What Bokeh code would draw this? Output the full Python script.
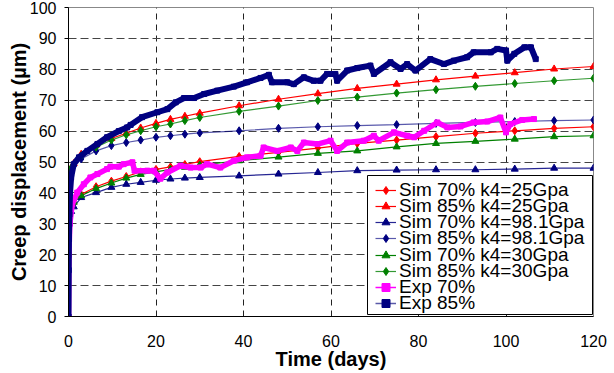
from bokeh.plotting import figure
from bokeh.models import Legend, LegendItem, FixedTicker, BoxAnnotation
from bokeh.embed import file_html
from bokeh.resources import INLINE

# ---------------- data ----------------
sim_t = [0, 0.05, 0.6, 1.2, 2.9, 6.3, 9.8, 13.2, 16.5, 20, 23.3, 26.6, 30,
         39, 48, 57, 66, 75, 84, 93, 102, 111, 120]

sim70_k25 = [0, 34.5, 36.5, 37.5, 39.5, 42.0, 43.8, 45.3, 46.8, 47.6, 48.4, 49.2, 50.1,
             51.8, 53.1, 54.5, 56.0, 57.1, 58.2, 59.3, 60.1, 60.9, 61.4]
sim85_k25 = [0, 46.0, 48.0, 49.5, 52.5, 55.5, 57.6, 59.3, 61.0, 62.5, 63.8, 64.8, 65.8,
             68.2, 70.3, 72.1, 73.8, 75.2, 76.6, 77.8, 78.9, 80.1, 80.9]
sim70_k98 = [0, 30.0, 34.0, 35.5, 38.5, 40.1, 41.8, 42.8, 43.4, 44.1, 44.5, 44.8, 45.0,
             45.5, 46.1, 46.6, 47.2, 47.4, 47.5, 47.5, 47.7, 48.0, 48.0]
sim85_k98 = [0, 45.5, 47.5, 48.8, 51.0, 53.6, 55.3, 56.3, 57.1, 58.0, 58.5, 59.0, 59.4,
             60.1, 60.9, 61.4, 61.8, 62.1, 62.5, 62.8, 63.1, 63.4, 63.6]
sim70_k30 = [0, 34.0, 36.0, 37.0, 39.1, 41.4, 43.2, 44.8, 46.0, 46.8, 47.6, 48.3, 49.0,
             50.4, 51.6, 52.8, 53.6, 54.9, 56.0, 56.7, 57.4, 58.2, 58.5]
sim85_k30 = [0, 45.5, 48.0, 49.3, 52.0, 54.8, 57.1, 58.8, 60.1, 61.4, 62.3, 63.4, 64.4,
             66.4, 68.1, 69.9, 71.0, 72.3, 73.4, 74.5, 75.4, 76.3, 77.1]

exp70_t = [0, 0.1, 0.3, 0.85, 2, 3.5, 5, 6.6, 8.8, 9.6, 11.5, 12.6, 14.6, 15.1, 18, 19.5,
           21, 22.6, 25.6, 27.9, 30.2, 31.7, 34.7, 37.8, 40.8, 43.9, 44.6, 47.7, 50.8,
           52.3, 53.8, 56.9, 59.9, 61.4, 63.7, 67.5, 69.8, 70.9, 74.4, 77.4, 79, 81.3,
           84.3, 86.6, 89.6, 92.6, 95.7, 98.7, 100, 101, 103.7, 106.4]
exp70_v = [0, 20, 30, 36.3, 40.1, 42.8, 45.0, 46.1, 47.7, 48.5, 48.5, 49.3, 49.9, 47.2,
           47.2, 47.2, 44.6, 46.6, 48.8, 48.2, 48.2, 49.3, 48.2, 50.4, 51.5, 52.0, 54.7,
           53.6, 54.7, 53.6, 56.3, 55.8, 56.9, 53.6, 56.3, 56.9, 58.5, 56.9, 59.6, 58.5,
           58.0, 60.1, 62.8, 61.2, 61.5, 62.8, 63.1, 64.4, 59.6, 62.3, 63.6, 63.9]

exp85_t = [0, 0.05, 0.1, 0.2, 0.35, 0.6, 1.2, 2.4, 4.3, 6.6, 8.8, 11.5, 13.4, 14.2, 16.8,
           20.3, 22.6, 24.5, 26.4, 28.7, 31, 34, 37.8, 40.8, 43.9, 45.8, 46.5, 50, 51.5,
           53.8, 56, 57.6, 59.1, 61, 61.4, 63.7, 66, 69, 69.8, 73.6, 75.9, 77.4, 79.3,
           82.7, 85.8, 88.1, 91.1, 92.6, 96.5, 98, 100, 100.3, 101.9, 104.2, 105.7, 106.8]
exp85_v = [0, 15, 25, 33, 40, 45, 49.3, 51.5, 53.6, 55.8, 58.0, 60.0, 61.2, 62.0, 64.5,
           66.1, 67.1, 69.3, 70.7, 70.7, 72.0, 73.1, 74.4, 75.8, 77.2, 78.2, 75.8, 75.8,
           75.2, 77.4, 76.3, 76.3, 78.5, 78.5, 76.3, 79.6, 80.4, 81.2, 78.5, 82.3, 80.1,
           81.7, 79.6, 83.3, 81.7, 82.8, 83.9, 85.5, 85.5, 86.6, 86.1, 82.8, 85.0, 87.1,
           87.1, 83.3]

x_ticks = [0, 20, 40, 60, 80, 100, 120]
y_ticks = [0, 10, 20, 30, 40, 50, 60, 70, 80, 90, 100]

labels = ["Sim 70% k4=25Gpa", "Sim 85% k4=25Gpa", "Sim 70% k4=98.1Gpa",
          "Sim 85% k4=98.1Gpa", "Sim 70% k4=30Gpa", "Sim 85% k4=30Gpa",
          "Exp 70%", "Exp 85%"]

# ---------------- figure ----------------
p = figure(frame_width=525, frame_height=309, x_range=(0, 120), y_range=(0, 100),
           output_backend="svg", toolbar_location=None,
           min_border_left=68, min_border_right=14, min_border_top=7,
           min_border_bottom=0)
p.background_fill_color = "white"
p.border_fill_color = "white"
p.outline_line_color = "#888888"
p.outline_line_width = 1

FONT = "Liberation Sans"
p.xaxis.ticker = FixedTicker(ticks=x_ticks)
p.yaxis.ticker = FixedTicker(ticks=y_ticks)
for ax in (p.xaxis[0], p.yaxis[0]):
    ax.axis_line_color = "black"
    ax.axis_line_width = 1
    ax.major_label_text_font = FONT
    ax.major_label_text_font_size = "16px"
    ax.major_label_text_color = "black"
    ax.axis_label_text_font = FONT
    ax.axis_label_text_font_size = "20px"
    ax.axis_label_text_font_style = "bold"
    ax.axis_label_text_color = "black"
    ax.minor_tick_line_color = None
    ax.major_tick_in = 0

p.xaxis.axis_label = "Time (days)"
p.yaxis.axis_label = "Creep displacement (µm)"
p.xaxis.major_tick_out = 0
p.xaxis.major_label_standoff = 18
p.xaxis.axis_label_standoff = -2
p.yaxis.major_tick_out = 4
p.yaxis.major_tick_line_color = "black"
p.yaxis.major_label_standoff = 8
p.yaxis.axis_label_standoff = -3

p.xgrid.grid_line_color = "#222222"
p.xgrid.grid_line_dash = "6 5"
p.ygrid.grid_line_color = "#444444"
p.ygrid.grid_line_dash = "8 4"

# ---------------- sim series ----------------
sims = [
    (sim70_k25, "#FF0000", 1.0, "diamond", 8),
    (sim85_k25, "#FF0000", 1.0, "triangle", 7),
    (sim70_k98, "#000080", 0.85, "triangle", 7),
    (sim85_k98, "#000080", 0.65, "diamond", 8),
    (sim70_k30, "#008000", 1.0, "triangle", 7),
    (sim85_k30, "#008000", 0.8, "diamond", 8),
]
items = []
for (vals, col, la, mk, sz), lab in zip(sims, labels[:6]):
    l = p.line(sim_t, vals, line_color=col, line_width=1.2, line_alpha=la)
    s = p.scatter(sim_t, vals, marker=mk, size=sz, fill_color=col, line_color=col)
    items.append(LegendItem(label=lab, renderers=[l, s]))

# ---------------- experimental series ----------------
for t, v, col, lcol, lw, lab in [
        (exp70_t, exp70_v, "#FF00FF", "#FF00FF", 5.5, labels[6]),
        (exp85_t, exp85_v, "#000080", "#5a5aa8", 6, labels[7])]:
    thin = p.line(t, v, line_color=lcol, line_width=1.5)
    sq = p.scatter(t, v, marker="square", size=5, fill_color=col, line_color=col)
    p.line(t, v, line_color=col, line_width=lw, line_join="round")
    items.append(LegendItem(label=lab, renderers=[thin, sq]))

# ---------------- legend (box + tightly stacked rows) ----------------
box = BoxAnnotation(left=299, right=524, bottom=2, top=141,
                    left_units="screen", right_units="screen",
                    top_units="screen", bottom_units="screen",
                    fill_color="white", fill_alpha=1.0,
                    line_color="black", line_width=1, line_alpha=1.0)
p.add_layout(box)

row_pitch = 16.2
for i, item in enumerate(items):
    lg = Legend(items=[item], location=(307, 115.3 - row_pitch * i))
    lg.label_text_font = FONT
    lg.label_text_font_size = "19px"
    lg.label_text_color = "black"
    lg.spacing = 0
    lg.padding = 0
    lg.margin = 0
    lg.glyph_width = 21
    lg.glyph_height = 20
    lg.label_height = 20
    lg.label_standoff = 3
    lg.border_line_color = None
    lg.background_fill_alpha = 0.0
    p.add_layout(lg, "center")

open("out.html", "w").write(file_html(p, INLINE))
